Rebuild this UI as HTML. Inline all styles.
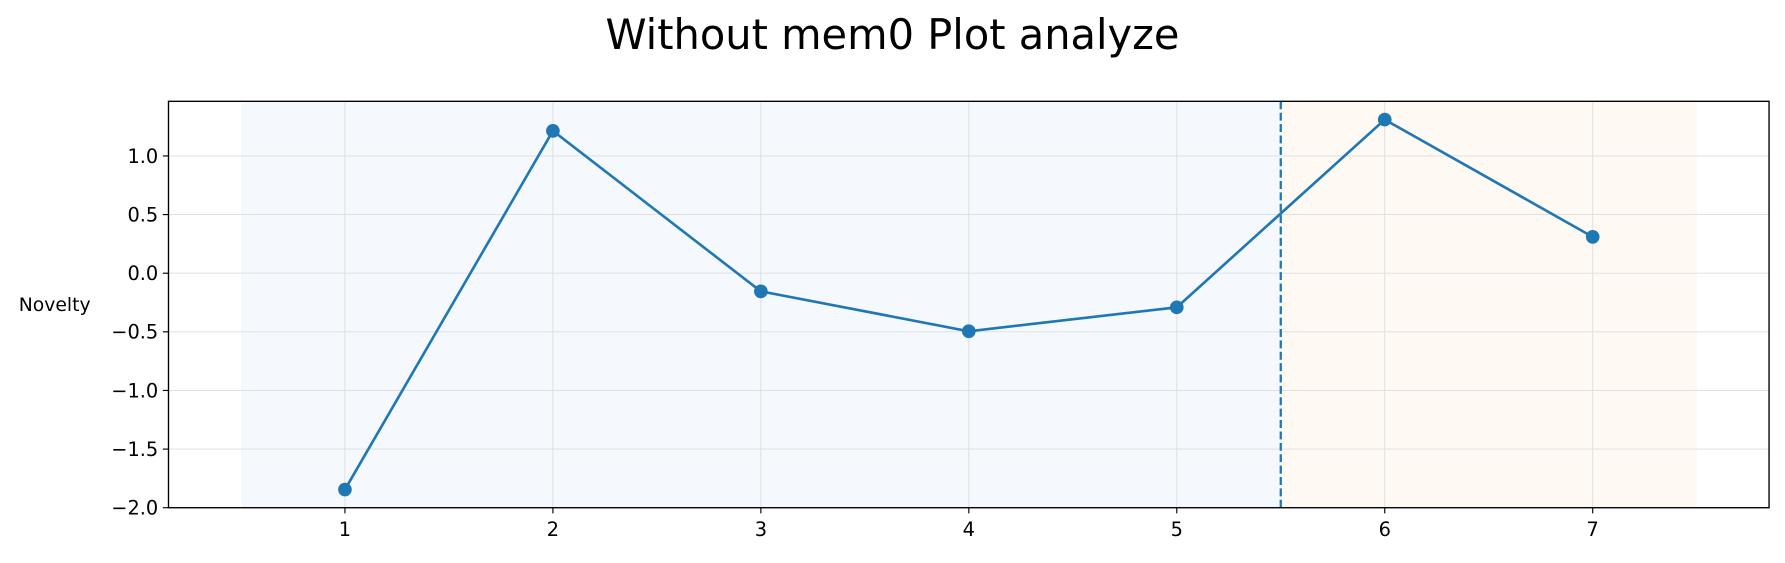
<!DOCTYPE html>
<html><head><meta charset="utf-8"><style>
body{margin:0;background:#fff;font-family:"Liberation Sans","DejaVu Sans",sans-serif;overflow:hidden;}
svg text{font-family:"DejaVu Sans","Liberation Sans",sans-serif;}
</style></head><body>
<svg id="chart" width="1785" height="558" viewBox="0 0 1568 490.17" xmlns="http://www.w3.org/2000/svg">
<text x="784" y="43" font-size="36.5" text-anchor="middle" fill="#000">Without mem0 Plot analyze</text>
<text x="48" y="273" font-size="16.5" text-anchor="middle" fill="#000">Novelty</text>
<g id="plot"></g>
</svg>
<script>
const xValues=[1,2,3,4,5,6,7];
const novelty=[-1.845,1.214,-0.155,-0.495,-0.291,1.31,0.31];
const yTicks=[1.0,0.5,0.0,-0.5,-1.0,-1.5,-2.0];
const yTickLabels=["1.0","0.5","0.0","\u22120.5","\u22121.0","\u22121.5","\u22122.0"];
const xTicks=[1,2,3,4,5,6,7];
const regions=[[0.5,5.5,"#f5f8fc","region-before"],[5.5,7.5,"#fef9f3","region-after"]];
const splitX=5.5;
const L=148,R=1554,T=89,B=446;
const xmin=0.1515,xmax=7.848,ymin=-2.0,ymax=1.466;
const sx=v=>L+(v-xmin)/(xmax-xmin)*(R-L);
const sy=v=>B-(v-ymin)/(ymax-ymin)*(B-T);
const g=document.getElementById('plot');
const NS="http://www.w3.org/2000/svg";
function mk(t,a){const e=document.createElementNS(NS,t);for(const k in a)e.setAttribute(k,a[k]);g.appendChild(e);return e;}
regions.forEach(r=>{const e=mk('rect',{x:sx(r[0]),y:T,width:sx(r[1])-sx(r[0]),height:B-T,fill:r[2]});

});
yTicks.forEach((v,i)=>{const y=sy(v);
const gl=mk('line',{x1:L,x2:R,y1:y,y2:y,stroke:"#ddd","stroke-width":0.8});


mk('line',{x1:L-5,x2:L,y1:y,y2:y,stroke:"#000","stroke-width":1});
const t=mk('text',{x:L-9,y:y+6,"font-size":17,"text-anchor":"end",fill:"#000"});t.textContent=yTickLabels[i];

});
xTicks.forEach(v=>{const x=sx(v);
const gl=mk('line',{x1:x,x2:x,y1:T,y2:B,stroke:"#ddd","stroke-width":0.8});


mk('line',{x1:x,x2:x,y1:B,y2:B+5,stroke:"#000","stroke-width":1});
const t=mk('text',{x:x,y:B+25,"font-size":17,"text-anchor":"middle",fill:"#000"});t.textContent=v;

});
const dl=mk('line',{x1:sx(splitX),x2:sx(splitX),y1:T,y2:B,stroke:"#1f77b4","stroke-width":2,"stroke-dasharray":"7,3"});


const pl=mk('polyline',{points:xValues.map((x,i)=>sx(x)+","+sy(novelty[i])).join(" "),fill:"none",stroke:"#1f77b4","stroke-width":2.3});


xValues.forEach((x,i)=>{const c=mk('circle',{cx:sx(x),cy:sy(novelty[i]),r:6,fill:"#1f77b4"});

});
const fr=mk('rect',{x:L,y:T,width:R-L,height:B-T,fill:"none",stroke:"#000","stroke-width":1.2});


</script>
</body></html>
